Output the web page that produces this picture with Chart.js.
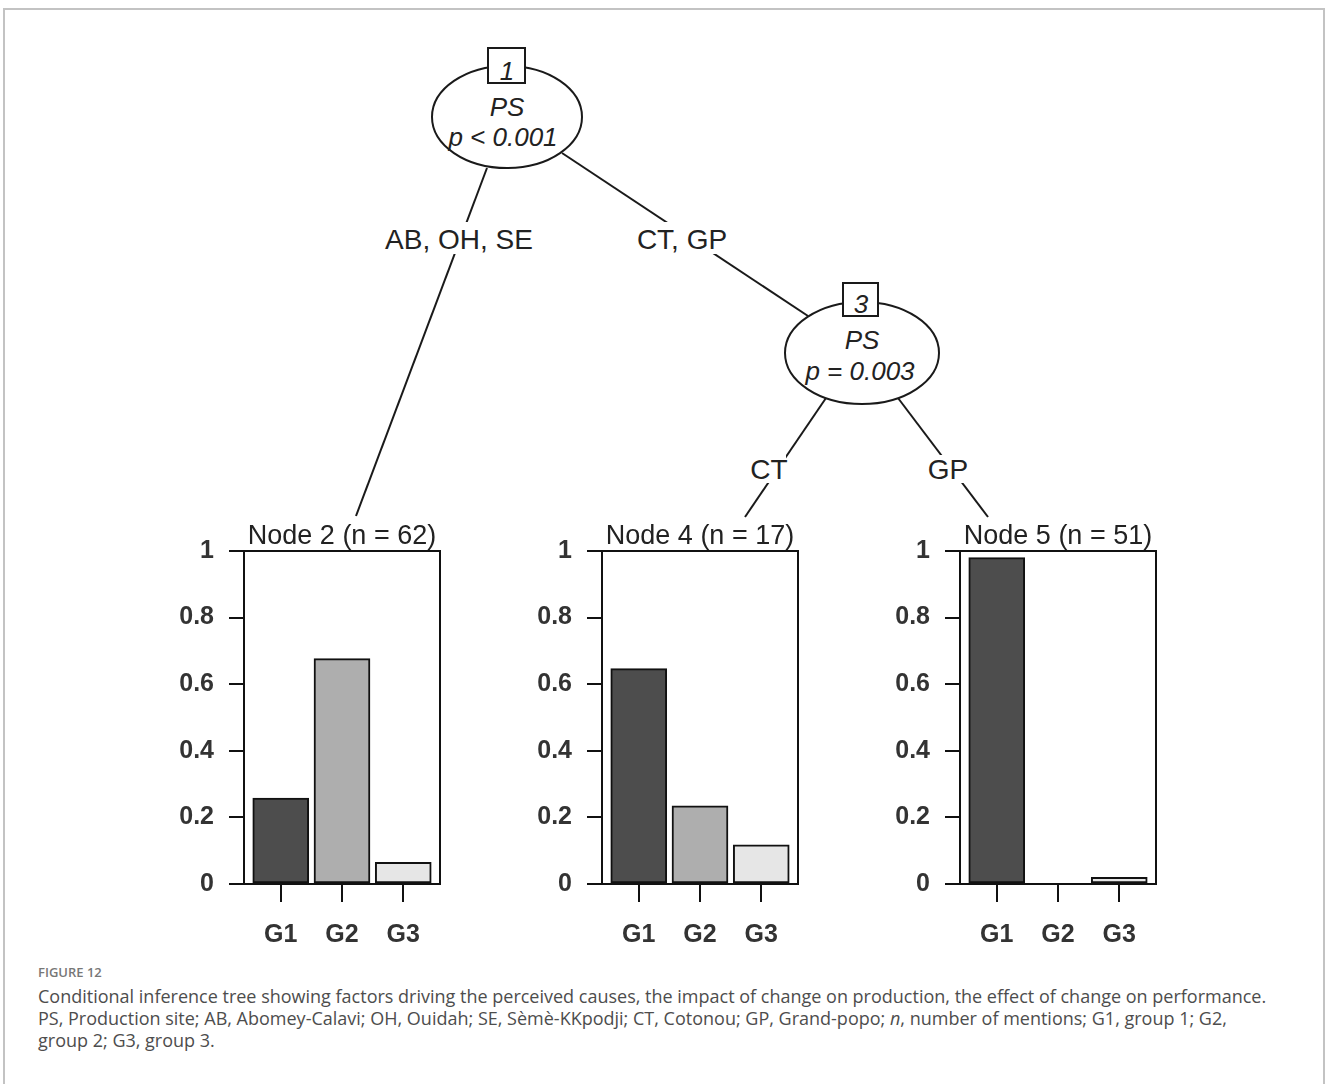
<!DOCTYPE html>
<html>
<head>
<meta charset="utf-8">
<script src="https://cdn.jsdelivr.net/npm/chart.js@4.4.1/dist/chart.umd.min.js"></script>
<style>
  html, body { margin: 0; padding: 0; background: #fff; overflow: hidden; }
  #page { position: relative; width: 1328px; height: 1084px; overflow: hidden; }
  #frame { position: absolute; left: 3px; top: 8px; width: 1318px; height: 1200px; border: 2px solid #c3c3c3; }
  #tree { position: absolute; left: 0; top: 0; }
  .panel { position: absolute; top: 500px; }
  .cap { position: absolute; left: 38px; font-family: "Open Sans", sans-serif; color: #4d4d4d;
         font-size: 18px; line-height: 22px; white-space: nowrap; }
  #figno { font-size: 13px; font-weight: 600; color: #777; line-height: 16px; }
</style>
</head>
<body>
<div id="page">
  <div id="frame"></div>

  <svg id="tree" width="1328" height="1084" font-family="'Liberation Sans', Arial, sans-serif">
    <g stroke="#1a1a1a" stroke-width="2" fill="none">
      <line x1="487" y1="168" x2="356" y2="516"/>
      <line x1="562" y1="153" x2="808" y2="316"/>
      <line x1="826" y1="398" x2="745" y2="517"/>
      <line x1="898" y1="398" x2="988" y2="517"/>
      <ellipse cx="507" cy="117" rx="75" ry="51" fill="#fff"/>
      <ellipse cx="862" cy="353" rx="77" ry="51" fill="#fff"/>
      <rect x="488" y="48" width="37" height="35" fill="#fff"/>
      <rect x="843" y="283" width="35" height="33" fill="#fff"/>
    </g>
    <g fill="#fff">
      <rect x="382" y="222" width="154" height="32"/>
      <rect x="634" y="222" width="97" height="32"/>
      <rect x="752" y="455" width="34" height="28"/>
      <rect x="928" y="455" width="41" height="28"/>
    </g>
    <g fill="#222" font-size="26" font-style="italic" text-anchor="middle">
      <text x="507" y="80">1</text>
      <text x="507" y="116">PS</text>
      <text x="503" y="146">p &lt; 0.001</text>
      <text x="861" y="313">3</text>
      <text x="862" y="349">PS</text>
      <text x="860" y="380">p = 0.003</text>
    </g>
    <g fill="#222" font-size="28" text-anchor="middle">
      <text x="459" y="249">AB, OH, SE</text>
      <text x="682" y="249">CT, GP</text>
      <text x="769" y="479">CT</text>
      <text x="948" y="479">GP</text>
    </g>
  </svg>

  <canvas id="p1" class="panel" width="300" height="460" style="left:154px"></canvas>
  <canvas id="p2" class="panel" width="300" height="460" style="left:512px"></canvas>
  <canvas id="p3" class="panel" width="300" height="460" style="left:870px"></canvas>

  <div class="cap" id="figno" style="top:964px">FIGURE 12</div>
  <div class="cap" style="top:985px">Conditional inference tree showing factors driving the perceived causes, the impact of change on production, the effect of change on performance.</div>
  <div class="cap" style="top:1007px">PS, Production site; AB, Abomey-Calavi; OH, Ouidah; SE, Sèmè-KKpodji; CT, Cotonou; GP, Grand-popo; <i>n</i>, number of mentions; G1, group 1; G2,</div>
  <div class="cap" style="top:1029px">group 2; G3, group 3.</div>
</div>

<script>
const groups = ["G1", "G2", "G3"];
const yTicks = [0, 0.2, 0.4, 0.6, 0.8, 1];
const barColors = ["#4d4d4d", "#aeaeae", "#e6e6e6"];

const node2Title = "Node 2 (n = 62)";
const node2 = [0.258, 0.677, 0.065];
const node4Title = "Node 4 (n = 17)";
const node4 = [0.647, 0.235, 0.118];
const node5Title = "Node 5 (n = 51)";
const node5 = [0.98, 0, 0.02];

const FONT = "'Liberation Sans', Arial, sans-serif";

// frame round the plot area, like R's box()
const boxPlugin = {
  id: "box",
  afterDatasetsDraw(chart) {
    const { ctx, chartArea: a } = chart;
    ctx.save();
    ctx.strokeStyle = "#111";
    ctx.lineWidth = 2;
    ctx.strokeRect(a.left, a.top, a.right - a.left, a.bottom - a.top);
    ctx.restore();
  },
};

function makePanel(id, title, values) {
  new Chart(document.getElementById(id), {
    type: "bar",
    data: {
      datasets: [{
        data: values.map((v, i) => ({ x: i + 1, y: v })),
        backgroundColor: barColors,
        borderColor: "#111",
        borderWidth: 2,
        borderSkipped: false,
        barThickness: 56,
      }],
    },
    options: {
      responsive: false, animation: false, devicePixelRatio: 1,
      layout: { padding: { top: 23, right: 14, left: 0, bottom: 0 } },
      plugins: {
        legend: { display: false },
        tooltip: { enabled: false },
        title: {
          display: true, text: title, fullSize: false, color: "#222",
          font: { family: FONT, size: 27, weight: "normal", lineHeight: 1 },
          padding: { top: 0, bottom: 1 },
        },
      },
      scales: {
        x: {
          type: "linear", min: 0.4, max: 3.6, offset: false,
          afterBuildTicks: (s) => { s.ticks = groups.map((g, i) => ({ value: i + 1 })); },
          afterFit: (s) => { s.height = 76; },
          grid: { offset: false, drawOnChartArea: false, tickLength: 18, color: "#111", lineWidth: 2 },
          border: { display: false },
          ticks: {
            padding: 18, color: "#333", font: { family: FONT, size: 25, weight: "bold" },
            callback: (v) => groups[Math.round(v) - 1],
          },
        },
        y: {
          min: 0, max: 1,
          afterBuildTicks: (s) => { s.ticks = yTicks.map((v) => ({ value: v })); },
          afterFit: (s) => { s.width = 90; },
          grid: { drawOnChartArea: false, tickLength: 15, color: "#111", lineWidth: 2 },
          border: { display: false },
          ticks: {
            padding: 15, color: "#333", font: { family: FONT, size: 25, weight: "bold" },
            callback: (v) => String(+v.toFixed(1)),
          },
        },
      },
    },
    plugins: [boxPlugin],
  });
}

makePanel("p1", node2Title, node2);
makePanel("p2", node4Title, node4);
makePanel("p3", node5Title, node5);
</script>
</body>
</html>
